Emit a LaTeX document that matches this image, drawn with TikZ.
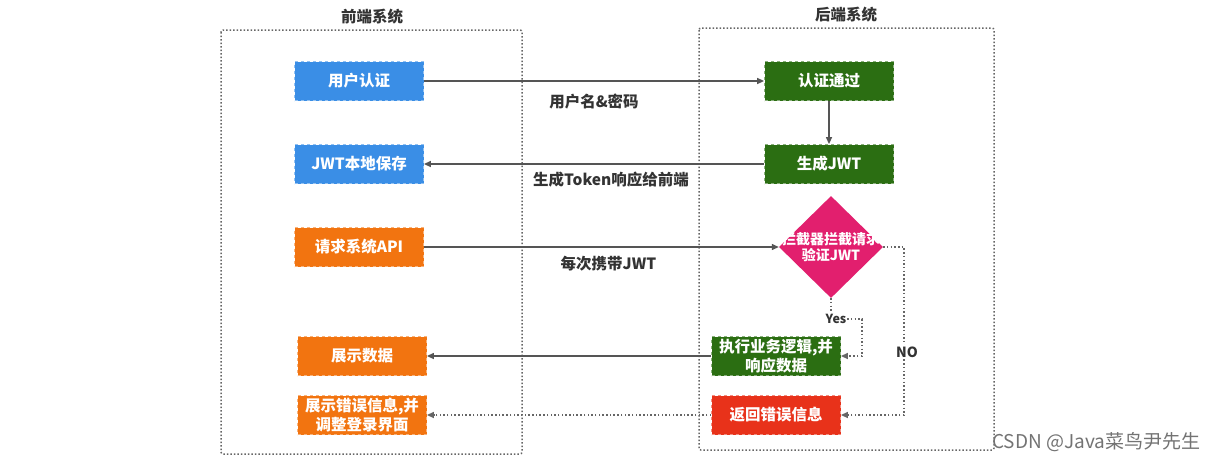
\documentclass[tikz,border=0pt]{standalone}
\usepackage{fontspec}
\setmainfont{Noto Sans CJK SC}
\usetikzlibrary{shapes.geometric,arrows.meta}
\definecolor{cblue}{HTML}{3A8EE6}
\definecolor{cgreen}{HTML}{2B6E12}
\definecolor{corange}{HTML}{F27410}
\definecolor{cred}{HTML}{E8321A}
\definecolor{cmag}{HTML}{E21F6E}
\definecolor{cline}{HTML}{555555}
\definecolor{cframe}{HTML}{666666}
\tikzset{
  frame/.style={draw=cframe, line width=1.5pt, dash pattern=on 1.5pt off 2pt, rounded corners=2pt},
  box/.style={minimum width=129pt, minimum height=39pt, inner sep=1pt, text=white, font=\bfseries\fontsize{15.5}{18}\selectfont, align=center, dashed, line width=0.8pt},
  twoline/.style={font=\bfseries\fontsize{15.5}{19}\selectfont},
  bluebox/.style={box, fill=cblue, draw=cblue!55!white},
  greenbox/.style={box, fill=cgreen, draw=cgreen!55!white},
  orangebox/.style={box, fill=corange, draw=corange!55!white},
  redbox/.style={box, fill=cred, draw=cred!55!white},
  conn/.style={draw=cline, line width=1.3pt, -{Triangle[length=7pt,width=6pt]}},
  dotconn/.style={draw=cframe, line width=1.4pt, dash pattern=on 1.5pt off 2.2pt, -{Triangle[length=7pt,width=6pt]}},
  lbl/.style={font=\bfseries\fontsize{15.5}{17}\selectfont, text=black!80},
  title/.style={font=\bfseries\fontsize{15.5}{17}\selectfont, text=black!80},
}
\begin{document}
\begin{tikzpicture}[x=1pt,y=-1pt]
\useasboundingbox (0,0) rectangle (1217,464);
\fill[white] (0,0) rectangle (1217,464);
% frames
\draw[frame] (221,30) rectangle (522,454);
\draw[frame] (699,28) rectangle (994,450);
\node[title] (t1) at (372,17) {前端系统};
\node[title] (t2) at (846,15) {后端系统};
% frontend nodes
\node[bluebox] (auth) at (359,81) {用户认证};
\node[bluebox] (save) at (359,164) {JWT本地保存};
\node[orangebox] (req) at (359,247) {请求系统API};
\node[orangebox] (show) at (362,356) {展示数据};
\node[orangebox, twoline] (showerr) at (362,415) {展示错误信息,并\\调整登录界面};
% backend nodes
\node[greenbox] (pass) at (829,81) {认证通过};
\node[greenbox] (gen) at (829,164) {生成JWT};
\node[diamond, fill=cmag, minimum width=104pt, minimum height=102pt, inner sep=0pt] (dia) at (831,247) {};
\node[text=white, font=\bfseries\fontsize{14}{16}\selectfont, align=center] (diat) at (dia.center) {拦截器拦截请求\\验证JWT};
\node[greenbox, twoline] (exec) at (776,356) {执行业务逻辑,并\\响应数据};
\node[redbox] (err) at (776,415) {返回错误信息};
% connectors
\draw[conn] (auth) -- (pass) node[lbl, pos=0.5, below=9pt] (l1) {用户名\&密码};
\draw[conn] (pass) -- (gen);
\draw[conn] (gen) -- (save) node[lbl, pos=0.5, below=4pt, xshift=17pt] (l2) {生成Token响应给前端};
\draw[conn] (req) -- (dia.west) node[lbl, pos=0.52, below=5pt] (l3) {每次携带JWT};
\draw[conn] (exec) -- (show);
\draw[dotconn] (err) -- (showerr);
\coordinate (yb) at (831,319);
\coordinate (yr) at (862,319);
\draw[dotconn] (dia.south) -- (yb) -- (yr) |- (exec.east);
\node[fill=white, inner sep=1pt, font=\bfseries\fontsize{12.5}{14}\selectfont, text=black!80] (yes) at (836,319) {Yes};
\coordinate (nr) at (904,247);
\draw[dotconn] (dia.east) -- (nr) |- (err.east);
\node[fill=white, inner sep=1.5pt, font=\bfseries\fontsize{14}{15}\selectfont, text=black!80] (no) at (907,352) {NO};
\node[anchor=west, font=\fontsize{19}{21}\selectfont, text=black!55, inner sep=0pt] (wm) at (992,442) {CSDN @Java菜鸟尹先生};
\end{tikzpicture}
\end{document}
